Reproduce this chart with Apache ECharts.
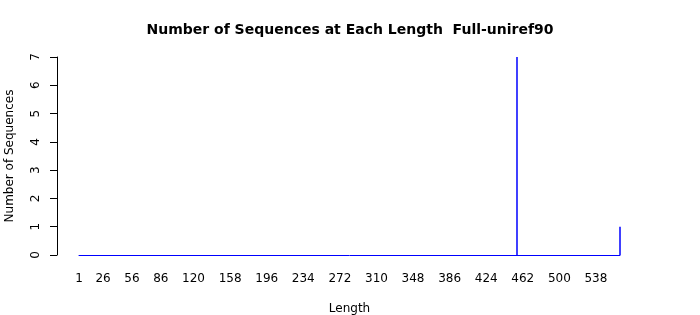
<!DOCTYPE html>
<html>
<head>
<meta charset="utf-8">
<script src="https://cdn.jsdelivr.net/npm/echarts@6/dist/echarts.min.js"></script>
<style>html,body{margin:0;padding:0;background:#fff;}#c{width:700px;height:315px;}</style>
</head>
<body>
<div id="c"></div>
<script>
// Data
var lengthMin = 1;
var lengthMax = 563;
var barLengths = [456, 563];
var barCounts = [7, 1];
var xTickLabels = [1, 26, 56, 86, 120, 158, 196, 234, 272, 310, 348, 386, 424, 462, 500, 538];
var yTicks = [0, 1, 2, 3, 4, 5, 6, 7];

var barData = barLengths.map(function (l, i) { return [l, barCounts[i]]; });
var font = 'DejaVu Sans';

var chart = echarts.init(document.getElementById('c'), null, {renderer: 'canvas'});
chart.setOption({
  animation: false,
  backgroundColor: '#ffffff',
  title: {
    text: 'Number of Sequences at Each Length  Full-uniref90',
    left: 'center', top: 18,
    textStyle: {fontFamily: font, fontSize: 14, fontWeight: 'bold', color: '#000'}
  },
  grid: {left: 79, right: 80, top: 57, bottom: 60, containLabel: false, outerBoundsMode: 'none'},
  xAxis: {
    type: 'value',
    min: lengthMin, max: lengthMax,
    name: 'Length', nameLocation: 'middle', nameGap: 48,
    nameTextStyle: {fontFamily: font, fontSize: 12, color: '#000'},
    splitLine: {show: false},
    axisTick: {show: false},
    axisLine: {show: true, onZero: true, lineStyle: {color: '#0000ff', width: 1}},
    axisLabel: {
      customValues: xTickLabels,
      hideOverlap: false,
      margin: 18,
      fontFamily: font, fontSize: 12, color: '#000'
    }
  },
  yAxis: {
    type: 'value',
    min: 0, max: 7, interval: 1,
    customValues: yTicks,
    offset: 22,
    name: 'Number of Sequences', nameLocation: 'middle', nameGap: 41,
    nameTextStyle: {fontFamily: font, fontSize: 12, color: '#000'},
    splitLine: {show: false},
    axisLine: {show: true, lineStyle: {color: '#000', width: 1}},
    axisTick: {show: true, length: 7, lineStyle: {color: '#000'}},
    axisLabel: {
      rotate: 90, margin: 15,
      fontFamily: font, fontSize: 12, color: '#000'
    }
  },
  series: [{
    type: 'bar',
    data: barData,
    barWidth: 1.5,
    itemStyle: {color: '#0000ff'}
  }]
});
</script>
</body>
</html>
